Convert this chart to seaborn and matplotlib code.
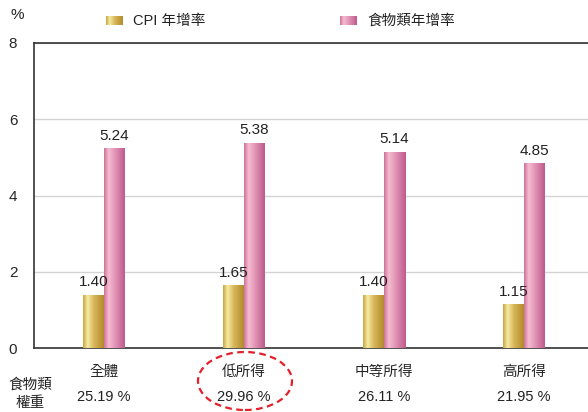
import numpy as np
import pandas as pd
import seaborn as sns
import matplotlib.pyplot as plt
from matplotlib.colors import LinearSegmentedColormap
from matplotlib.patches import Ellipse

# =========================
# Data
# =========================
groups = ["全體", "低所得", "中等所得", "高所得"]
cpi_rate = [1.40, 1.65, 1.40, 1.15]
food_rate = [5.24, 5.38, 5.14, 4.85]
food_weight = ["25.19 %", "29.96 %", "26.11 %", "21.95 %"]
series = ["CPI 年增率", "食物類年增率"]

df = pd.DataFrame({
    "group": groups * 2,
    "series": [series[0]] * len(groups) + [series[1]] * len(groups),
    "value": cpi_rate + food_rate,
})

# =========================
# Style
# =========================
sns.set_theme(style="white")
plt.rcParams["font.family"] = ["Liberation Sans", "Noto Sans CJK TC"]
plt.rcParams["text.color"] = "#222222"

gold_cmap = LinearSegmentedColormap.from_list(
    "gold", [(0, "#c9a646"), (0.22, "#f6eba2"), (0.5, "#d9b95c"), (1, "#b38a2c")])
pink_cmap = LinearSegmentedColormap.from_list(
    "pink", [(0, "#cf7399"), (0.22, "#f5bcd0"), (0.55, "#e092b3"), (1, "#c05a8e")])
palette = {series[0]: "#c9a646", series[1]: "#d77fa6"}
cmaps = [gold_cmap, pink_cmap]

fig = plt.figure(figsize=(5.88, 4.12), dpi=100)
ax = fig.add_axes([34 / 588, 64 / 412, 560 / 588, 305 / 412])

sns.barplot(data=df, x="group", y="value", hue="series", palette=palette,
            width=0.3, legend=False, ax=ax, zorder=3, linewidth=0)

# gradient fill on each bar
grad = np.linspace(0, 1, 64).reshape(1, -1)
for cont, cmap in zip(ax.containers, cmaps):
    for p in cont.patches:
        x0, y0, w, h = p.get_x(), p.get_y(), p.get_width(), p.get_height()
        im = ax.imshow(grad, cmap=cmap, aspect="auto",
                       extent=[x0, x0 + w, y0, y0 + h], zorder=3.5)
        im.set_clip_path(p)
    ax.bar_label(cont, fmt="%.2f", padding=4, fontsize=11, zorder=5)

ax.set_xlim(-0.5, 3.5)
ax.set_ylim(0, 8)
ax.set_yticks([0, 2, 4, 6, 8])
ax.yaxis.grid(True, color="#d4d4d4", linewidth=1)
ax.set_axisbelow(True)
ax.tick_params(axis="y", length=0, pad=12, labelsize=11)
ax.tick_params(axis="x", length=0, pad=12, labelsize=10.5)
ax.set_xticks(range(len(groups)))
ax.set_xticklabels(groups)
ax.set_xticks([0.5, 1.5, 2.5], minor=True)
ax.tick_params(axis="x", which="minor", direction="in", length=9,
               color="#cccccc", width=1)
ax.set_xlabel("")
ax.set_ylabel("")

for side in ["left", "bottom", "top"]:
    ax.spines[side].set_color("#333333")
    ax.spines[side].set_linewidth(1.2)
ax.spines["right"].set_visible(False)

# food weight row
for i, w in enumerate(food_weight):
    ax.text(i, -0.16, w, transform=ax.get_xaxis_transform(),
            ha="center", va="center", fontsize=10.5, clip_on=False)
fig.text(30 / 588, 1 - 394 / 412, "食物類\n權重", ha="center", va="center",
         fontsize=10.5, linespacing=1.45)
fig.text(17 / 588, 1 - 15 / 412, "%", ha="center", va="center", fontsize=11)

# highlight low income
fig.patches.append(Ellipse((245 / 588, 1 - 381 / 412), 94 / 588, 58 / 412,
                           transform=fig.transFigure, fill=False,
                           edgecolor="#e5202a", linestyle=(0, (3, 2)),
                           linewidth=1.6))

# legend
legend_pos = [(106, 133), (340, 367)]
for (px, tx), name, cmap in zip(legend_pos, series, cmaps):
    sw = fig.add_axes([px / 588, 1 - 25 / 412, 17 / 588, 9 / 412])
    sw.imshow(grad, cmap=cmap, aspect="auto")
    sw.axis("off")
    fig.text(tx / 588, 1 - 21 / 412, name, ha="left", va="center", fontsize=10.5)

plt.savefig("out.png", dpi=100)
